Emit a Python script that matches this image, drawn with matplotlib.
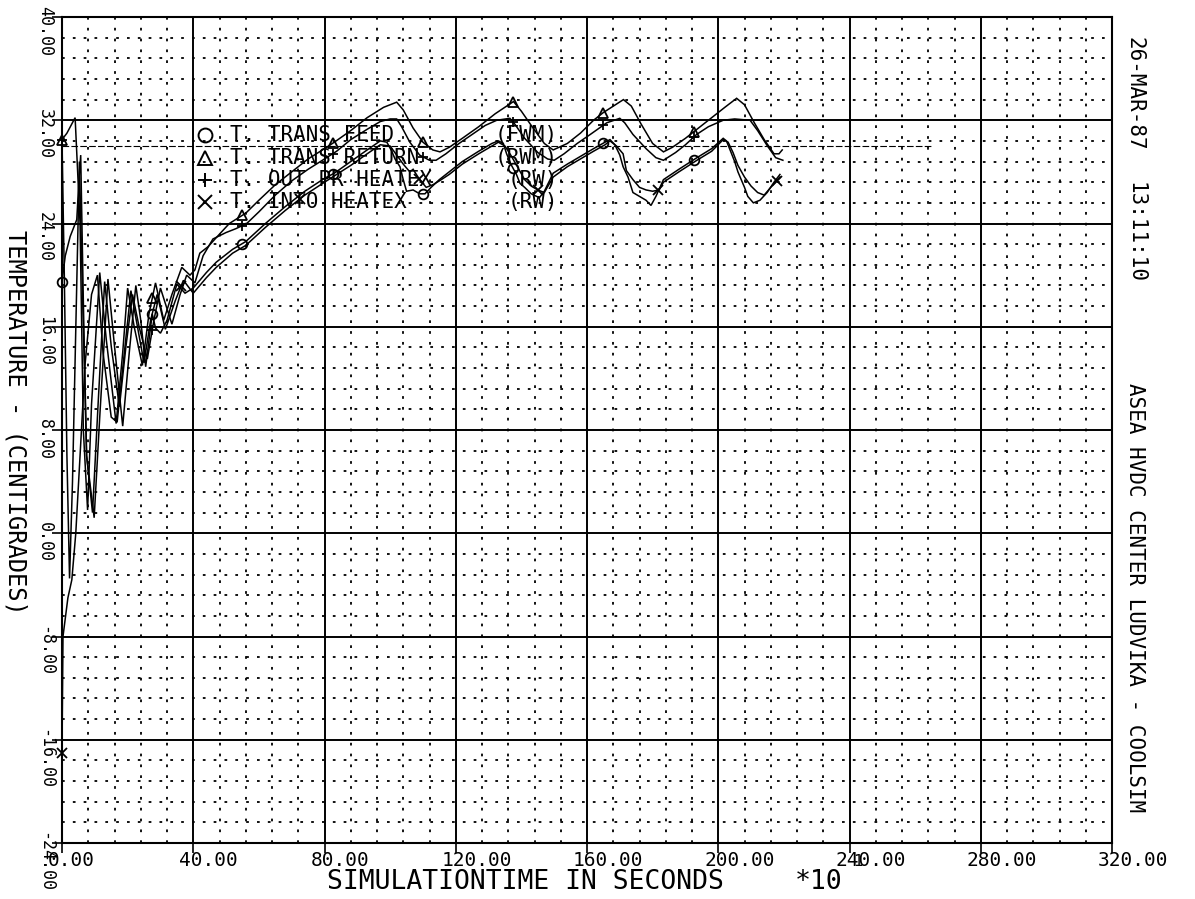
import numpy as np
import matplotlib.pyplot as plt
from matplotlib.ticker import MultipleLocator
import matplotlib.transforms as mtransforms

# ---- data (time in s/10, temperature in C) ----
return_pts = [(0, 30.5), (1.5, 31.0), (4.0, 32.2), (5.5, 24.0), (6.5, 8.0), (7.8, 1.8), (9.0, 10.0),
              (11.5, 20.2), (13.5, 15.0), (16.5, 8.5), (18.5, 14.0), (20.0, 19.0), (22.0, 16.0),
              (24.5, 13.0), (26.5, 17.0), (28.5, 19.4), (31.0, 16.5), (33.5, 18.5), (36.5, 20.6),
              (39.0, 20.0), (40.5, 20.4), (42.0, 21.7), (44.5, 22.2), (47.0, 22.9), (51.0, 24.0),
              (56.0, 24.8), (60.0, 25.8), (65.0, 27.0), (70.0, 28.0), (75.0, 29.0), (80.0, 29.8),
              (83.0, 30.3), (88.0, 31.2), (93.0, 32.2), (98.0, 33.0), (102.0, 33.4), (104.0, 32.8),
              (107.0, 31.4), (110.0, 30.3), (113.0, 29.7), (115.2, 29.55), (118.0, 29.9), (122.0, 30.6),
              (127.0, 31.5), (132.0, 32.5), (137.6, 33.45), (140.0, 32.7), (143.0, 31.6), (147.0, 30.2),
              (149.7, 29.7), (154.0, 30.2), (158.0, 31.0), (162.0, 32.0), (165.0, 32.6), (171.1, 33.6),
              (173.5, 33.1), (176.5, 31.7), (180.0, 30.2), (183.3, 29.55), (186.0, 29.9), (190.0, 30.6),
              (193.0, 31.2), (198.0, 32.2), (202.0, 33.0), (205.6, 33.7), (208.0, 33.2), (211.0, 31.8),
              (214.0, 30.5), (217.0, 29.4), (218.5, 29.4), (219.5, 29.7)]

heatex_out_pts = [(0, 30.5), (0.7, 20.0), (1.5, 6.0), (2.3, -3.5), (3.2, 4.0), (4.3, 17.0), (5.3, 28.8),
                  (6.3, 18.0), (7.5, 6.0), (9.3, 1.6), (11.0, 10.0), (13.0, 19.5), (15.0, 14.5),
                  (17.5, 9.8), (19.5, 14.5), (21.5, 18.5), (23.5, 16.0), (26.0, 13.5), (28.0, 16.5),
                  (30.0, 19.0), (33.5, 16.2), (36.0, 18.5), (38.0, 20.0), (40.5, 19.4), (43.0, 21.5),
                  (46.0, 22.8), (50.0, 23.3), (53.0, 23.6), (56.3, 24.0), (60.0, 24.9), (65.0, 26.2),
                  (70.0, 27.3), (75.0, 28.2), (80.0, 29.0), (83.7, 29.6), (88.0, 30.5), (93.0, 31.3),
                  (97.0, 31.9), (100.0, 32.1), (102.0, 32.1), (103.5, 31.5), (106.0, 30.3), (109.0, 29.3),
                  (112.0, 28.9), (114.0, 28.9), (117.0, 29.4), (121.0, 30.2), (125.0, 30.9), (129.0, 31.6),
                  (132.5, 32.0), (136.5, 32.15), (138.0, 31.7), (141.0, 30.6), (145.0, 29.5), (148.0, 29.0),
                  (150.0, 28.9), (153.0, 29.4), (157.0, 30.2), (161.0, 30.9), (166.0, 31.8), (170.0, 32.15),
                  (171.5, 31.8), (174.0, 30.9), (178.0, 29.8), (181.0, 29.1), (183.3, 28.9), (187.0, 29.5),
                  (190.0, 30.1), (193.4, 30.9), (197.0, 31.5), (201.5, 32.0), (205.0, 32.1), (209.7, 32.0),
                  (212.0, 31.2), (215.0, 30.0), (217.5, 29.1), (219.7, 28.9)]

feed_pts = [(0, 19.5), (1.0, 21.5), (2.5, 23.0), (4.5, 24.3), (5.2, 27.5), (5.7, 29.3), (6.5, 18.0),
            (7.5, 6.0), (9.8, 1.2), (11.5, 9.0), (14.0, 19.7), (16.0, 14.5), (18.5, 8.3), (20.5, 14.0),
            (22.5, 19.2), (24.0, 16.5), (25.5, 12.9), (27.5, 17.0), (28.5, 15.9), (30.0, 15.5),
            (32.0, 16.5), (35.0, 19.3), (37.5, 18.6), (40.0, 19.0), (44.0, 20.2), (47.0, 21.0),
            (52.0, 22.0), (56.0, 22.6), (62.0, 24.0), (68.0, 25.3), (74.0, 26.5), (80.0, 27.5),
            (83.0, 27.9), (88.0, 28.8), (93.0, 29.7), (97.0, 30.4), (99.0, 30.3), (100.5, 29.6),
            (101.5, 29.0), (103.0, 28.4), (104.0, 27.4), (105.0, 26.5), (107.0, 26.6), (109.0, 26.3),
            (110.6, 26.3), (112.5, 26.8), (115.0, 27.4), (118.0, 28.0), (122.0, 28.8), (127.0, 29.6),
            (131.0, 30.2), (133.0, 30.4), (134.5, 30.2), (135.5, 29.4), (137.0, 28.5), (138.5, 27.8),
            (139.6, 27.1), (141.0, 26.8), (143.0, 26.3), (145.5, 26.0), (147.0, 26.5), (149.7, 27.9),
            (154.0, 28.6), (158.0, 29.2), (162.0, 29.8), (165.5, 30.3), (167.0, 30.5), (168.5, 30.1),
            (170.0, 29.3), (171.0, 28.4), (172.5, 27.6), (174.0, 26.4), (176.0, 26.1), (178.0, 25.8),
            (179.5, 25.4), (181.0, 26.1), (183.3, 27.4), (188.0, 28.2), (193.5, 29.1), (198.0, 29.8),
            (201.5, 30.6), (202.5, 30.4), (203.6, 29.7), (205.0, 28.8), (206.0, 28.0), (208.0, 26.8),
            (209.0, 26.1), (210.7, 25.6), (212.7, 25.8), (214.9, 26.4), (217.0, 27.2), (218.8, 27.8)]

heatex_in_pts = [(0, -17.0), (0.3, -8.0), (1.8, -5.0), (3.0, -3.6), (4.2, 0.0), (5.5, 6.0), (7.0, 13.0),
                 (9.0, 18.5), (10.8, 20.0), (12.5, 14.0), (15.0, 9.0), (16.8, 8.6), (19.0, 14.0),
                 (21.0, 18.8), (23.0, 16.0), (25.0, 13.2), (27.0, 16.5), (29.0, 18.5), (31.5, 15.8),
                 (34.5, 18.0), (37.0, 19.6), (40.0, 18.6), (44.0, 19.8), (47.0, 20.6), (52.0, 21.7),
                 (56.0, 22.3), (62.0, 23.7), (68.0, 25.0), (74.0, 26.2), (80.0, 27.2), (88.0, 28.5),
                 (93.0, 29.4), (97.0, 30.1), (100.0, 30.0), (102.0, 29.3), (104.0, 28.6), (106.0, 28.0),
                 (107.0, 28.2), (109.0, 27.4), (111.0, 26.8), (113.0, 27.0), (115.0, 27.3), (118.0, 27.8),
                 (122.0, 28.6), (127.0, 29.4), (131.0, 30.0), (133.0, 30.3), (135.0, 30.0), (137.0, 29.2),
                 (139.0, 28.3), (141.0, 27.4), (143.0, 26.9), (145.0, 26.6), (147.0, 26.4), (149.7, 27.6),
                 (154.0, 28.4), (158.0, 29.0), (162.0, 29.6), (165.5, 30.1), (167.0, 30.4), (169.0, 30.0),
                 (171.0, 29.4), (172.0, 28.1), (174.0, 27.4), (176.0, 26.8), (178.0, 26.6), (180.0, 26.5),
                 (182.0, 26.6), (183.3, 27.2), (188.0, 28.0), (193.5, 28.9), (198.0, 29.6), (201.5, 30.5),
                 (203.0, 30.3), (204.5, 29.5), (206.0, 28.5), (208.0, 27.6), (210.0, 26.9), (212.0, 26.4),
                 (214.0, 26.2), (216.0, 26.8), (218.8, 27.6)]

series = [
    ('T. TRANS FEED', '(FWM)', 'o', feed_pts, 27.5),
    ('T. TRANS RETURN', '(RWM)', '^', return_pts, 27.5),
    ('T. OUT PR HEATEX', '(RW)', '+', heatex_out_pts, 27.5),
    ('T. INTO HEATEX', '(RW)', 'x', heatex_in_pts, 36.3),
]
setpoint = 30.0
setpoint_end = 265.0

x_ticks = np.arange(0, 321, 40)
y_ticks = np.arange(-24, 41, 8)

# ---- figure ----
W, H = 1195, 899
fig = plt.figure(figsize=(W / 100, H / 100), dpi=100)
ax = fig.add_axes([62 / W, 1 - 843 / H, 1050 / W, 826 / H])
ax.set_xlim(0, 320)
ax.set_ylim(-24, 40)
ax.xaxis.set_major_locator(MultipleLocator(40))
ax.yaxis.set_major_locator(MultipleLocator(8))
ax.xaxis.set_minor_locator(MultipleLocator(8))
ax.yaxis.set_minor_locator(MultipleLocator(1.6))
ax.grid(which='major', color='k', lw=1.4, ls='-')
ax.grid(which='minor', color='k', lw=1.3, ls=(0, (1.5, 4.5)))
ax.tick_params(which='major', direction='out', length=7, width=1.2, labelbottom=False, labelleft=False)
ax.tick_params(which='minor', length=0)
for s in ax.spines.values():
    s.set_linewidth(1.5)
ax.set_axisbelow(True)

mono = 'DejaVu Sans Mono'
dpt = fig.dpi_scale_trans
for yv in y_ticks:
    ax.text(-0.0162, yv, '%.2f' % yv, rotation=-90, ha='center', va='top', fontsize=12, family=mono,
            transform=ax.get_yaxis_transform() + mtransforms.ScaledTranslation(0, 11 / 100, dpt))
for xv in x_ticks:
    ax.text(xv, -0.0206, '%.2f' % xv, ha='left', va='center', fontsize=14, family=mono,
            transform=ax.get_xaxis_transform() + mtransforms.ScaledTranslation(-14 / 100, 0, dpt))

# setpoint line
ax.plot([0, setpoint_end], [setpoint, setpoint], color='k', lw=0.8, ls=(0, (6, 2)))

for name, unit, mk, pts, step in series:
    t = np.array([p[0] for p in pts])
    v = np.array([p[1] for p in pts])
    ax.plot(t, v, color='k', lw=1.1, solid_joinstyle='miter')
    mx = np.arange(0, t.max(), step)
    ax.plot(mx, np.interp(mx, t, v), ls='none', marker=mk, ms=7, mfc='none', mec='k', mew=1.3,
            clip_on=False)

# legend drawn as plotter symbols + text
leg_y = [30.86, 29.08, 27.37, 25.67]
for (name, unit, mk, pts, step), ly in zip(series, leg_y):
    ax.plot([43.6], [ly], ls='none', marker=mk, ms=10, mfc='none', mec='k', mew=1.4)
    ax.text(51.2, ly, name, ha='left', va='center', fontsize=15, family=mono)
    ax.text(151.2, ly, unit, ha='right', va='center', fontsize=15, family=mono)

# axis titles and stamp
fig.text(15 / W, 1 - 422 / H, 'TEMPERATURE - (CENTIGRADES)', rotation=-90, ha='center', va='center',
         fontsize=17, family=mono)
fig.text(525 / W, 1 - 882 / H, 'SIMULATIONTIME IN SECONDS', ha='center', va='center', fontsize=19,
         family=mono)
fig.text(795 / W, 1 - 882 / H, '*10', ha='left', va='center', fontsize=19, family=mono)
fig.text(853 / W, 1 - 869 / H, '1', ha='left', va='bottom', fontsize=11, family=mono)
fig.text(1135 / W, 1 - 37 / H, '26-MAR-87', rotation=-90, ha='center', va='top', fontsize=15, family=mono)
fig.text(1135 / W, 1 - 182 / H, '13:11:10', rotation=-90, ha='center', va='top', fontsize=15, family=mono)
fig.text(1135 / W, 1 - 383 / H, 'ASEA HVDC CENTER LUDVIKA - COOLSIM', rotation=-90, ha='center', va='top',
         fontsize=15, family=mono)

fig.savefig('out.png', dpi=100)
